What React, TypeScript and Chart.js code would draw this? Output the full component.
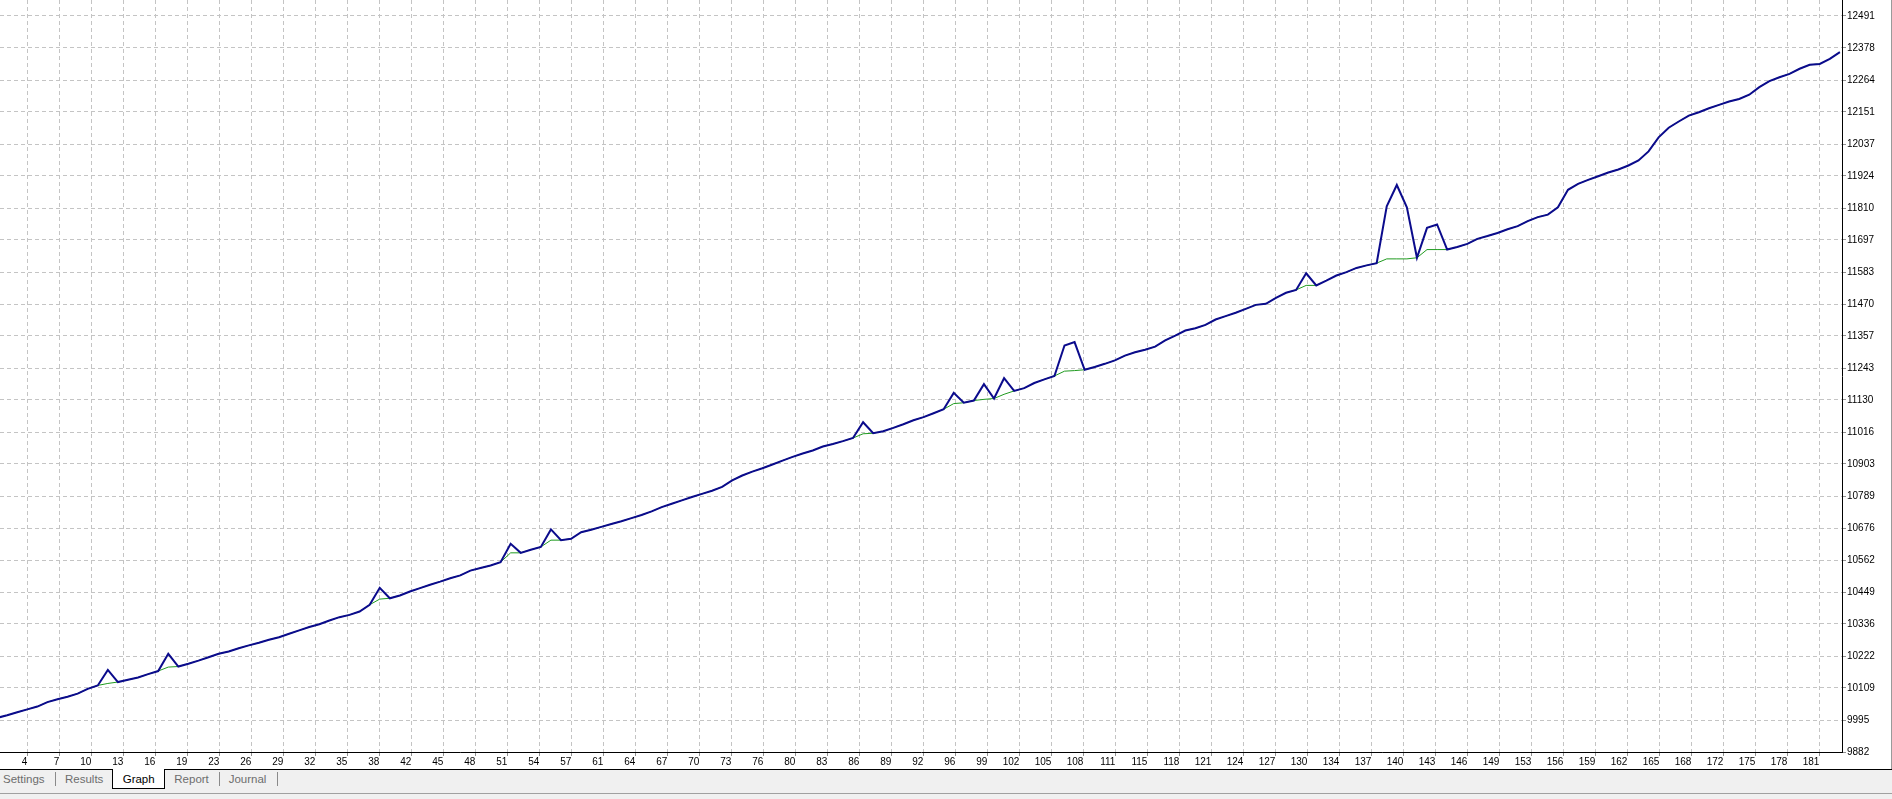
import { useEffect, useRef } from 'react';
import { Chart, registerables } from 'chart.js';

Chart.register(...registerables);

// Blue line (one value per trade, trade 1..184)
const BLUE_SERIES = [
  10003, 10012, 10023, 10033, 10043, 10059, 10069, 10078, 10089, 10106,
  10118, 10173, 10130, 10138, 10146, 10158, 10169, 10230, 10185, 10195,
  10206, 10218, 10230, 10238, 10250, 10260, 10269, 10280, 10289, 10301,
  10313, 10325, 10335, 10348, 10360, 10368, 10380, 10404, 10464, 10427,
  10437, 10451, 10463, 10475, 10486, 10498, 10508, 10525, 10534, 10543,
  10555, 10620, 10588, 10599, 10609, 10671, 10633, 10638, 10661, 10670,
  10680, 10690, 10700, 10711, 10722, 10735, 10750, 10762, 10774, 10786,
  10797, 10808, 10822, 10845, 10862, 10876, 10888, 10901, 10915, 10928,
  10940, 10951, 10965, 10974, 10984, 10995, 11051, 11012, 11019, 11031,
  11044, 11058, 11069, 11083, 11097, 11155, 11120, 11128, 11186, 11135,
  11207, 11162, 11172, 11190, 11203, 11215, 11323, 11335, 11237, 11247,
  11258, 11270, 11287, 11299, 11308, 11319, 11341, 11358, 11376, 11384,
  11396, 11415, 11427, 11439, 11453, 11467, 11471, 11492, 11510, 11520,
  11579, 11536, 11553, 11571, 11583, 11598, 11607, 11615, 11816, 11892,
  11813, 11634, 11740, 11752, 11663, 11672, 11683, 11701, 11711, 11722,
  11735, 11746, 11764, 11778, 11787, 11813, 11875, 11896, 11910, 11923,
  11936, 11947, 11961, 11979, 12011, 12061, 12095, 12117, 12138, 12150,
  12164, 12176, 12188, 12197, 12212, 12239, 12260, 12274, 12286, 12304,
  12318, 12321, 12339, 12363,
];

// Green line (one value per trade, trade 1..184)
const GREEN_SERIES = [
  10003, 10012, 10023, 10033, 10043, 10059, 10069, 10078, 10089, 10106,
  10118, 10125, 10130, 10138, 10146, 10158, 10169, 10183, 10185, 10195,
  10206, 10218, 10230, 10238, 10250, 10260, 10269, 10280, 10289, 10301,
  10313, 10325, 10335, 10348, 10360, 10368, 10380, 10404, 10424, 10427,
  10437, 10451, 10463, 10475, 10486, 10498, 10508, 10525, 10534, 10543,
  10555, 10588, 10588, 10599, 10609, 10633, 10633, 10638, 10661, 10670,
  10680, 10690, 10700, 10711, 10722, 10735, 10750, 10762, 10774, 10786,
  10797, 10808, 10822, 10845, 10862, 10876, 10888, 10901, 10915, 10928,
  10940, 10951, 10965, 10974, 10984, 10995, 11010, 11012, 11019, 11031,
  11044, 11058, 11069, 11083, 11097, 11117, 11120, 11128, 11132, 11135,
  11150, 11162, 11172, 11190, 11203, 11215, 11232, 11234, 11237, 11247,
  11258, 11270, 11287, 11299, 11308, 11319, 11341, 11358, 11376, 11384,
  11396, 11415, 11427, 11439, 11453, 11467, 11471, 11492, 11510, 11520,
  11536, 11536, 11553, 11571, 11583, 11598, 11607, 11615, 11630, 11630,
  11630, 11634, 11663, 11663, 11663, 11672, 11683, 11701, 11711, 11722,
  11735, 11746, 11764, 11778, 11787, 11813, 11875, 11896, 11910, 11923,
  11936, 11947, 11961, 11979, 12011, 12061, 12095, 12117, 12138, 12150,
  12164, 12176, 12188, 12197, 12212, 12239, 12260, 12274, 12286, 12304,
  12318, 12321, 12339, 12363,
];

const X_TICK_LABELS = [
  '4', '7', '10', '13', '16', '19', '23', '26', '29', '32', '35', '38', '42', '45', '48',
  '51', '54', '57', '61', '64', '67', '70', '73', '76', '80', '83', '86', '89', '92', '96',
  '99', '102', '105', '108', '111', '115', '118', '121', '124', '127', '130', '134', '137',
  '140', '143', '146', '149', '153', '156', '159', '162', '165', '168', '172', '175', '178', '181',
];

const Y_TICK_LABELS = [
  12491, 12378, 12264, 12151, 12037, 11924, 11810, 11697, 11583, 11470, 11357, 11243,
  11130, 11016, 10903, 10789, 10676, 10562, 10449, 10336, 10222, 10109, 9995, 9882,
];

const X_FIRST_TICK = 4.0;
const X_TICK_STEP = 3.178;
const X_MIN = 1.29;
const X_MAX = 184.21;
const Y_MIN = 9882;
const Y_MAX = 12547.7;

const TABS = ['Settings', 'Results', 'Graph', 'Report', 'Journal'];
const TAB_LEFT = [3, 65, 122.7, 174.3, 228.7];
const SEPARATORS_LEFT = [55, 219.3, 277.3];

const FONT = '"Liberation Sans", Arial, sans-serif';

export default function App() {
  const ref = useRef<HTMLCanvasElement>(null);

  useEffect(() => {
    document.body.style.margin = '0';
    const canvas = ref.current;
    if (!canvas) return;
    const chart = new Chart(canvas, {
      type: 'line',
      data: {
        datasets: [
          {
            label: 'Balance',
            data: BLUE_SERIES.map((v, i) => ({ x: i + 1, y: v })),
            borderColor: '#0b0b8c',
            borderWidth: 2,
            pointRadius: 0,
            tension: 0,
            fill: false,
          },
          {
            label: 'Equity',
            data: GREEN_SERIES.map((v, i) => ({ x: i + 1, y: v })),
            borderColor: '#1f9a1f',
            borderWidth: 1,
            pointRadius: 0,
            tension: 0,
            fill: false,
          },
        ],
      },
      options: {
        responsive: false,
        animation: false,
        events: [],
        layout: { padding: 0 },
        plugins: { legend: { display: false }, tooltip: { enabled: false } },
        scales: {
          x: {
            type: 'linear',
            position: 'bottom',
            min: X_MIN,
            max: X_MAX,
            afterBuildTicks: (s: any) => {
              s.ticks = X_TICK_LABELS.map((_, k) => ({ value: X_FIRST_TICK + k * X_TICK_STEP }));
            },
            afterFit: (s: any) => {
              s.height = 17;
              s.paddingLeft = 0;
              s.paddingRight = 0;
            },
            ticks: {
              callback: (_v: any, i: number) => X_TICK_LABELS[i],
              align: 'end',
              autoSkip: false,
              maxRotation: 0,
              minRotation: 0,
              padding: 0,
              color: '#000',
              font: { family: FONT, size: 10 },
            },
            grid: {
              color: '#c4c4c4',
              lineWidth: 1,
              tickColor: '#909090',
              tickLength: 4,
              tickBorderDash: [],
            },
            border: { display: true, color: '#000', width: 1, dash: [4, 3] },
          },
          y: {
            type: 'linear',
            position: 'right',
            min: Y_MIN,
            max: Y_MAX,
            afterBuildTicks: (s: any) => {
              s.ticks = Y_TICK_LABELS.map((v) => ({ value: v }));
            },
            afterFit: (s: any) => {
              s.width = 50;
              s.paddingTop = 0;
              s.paddingBottom = 0;
            },
            ticks: {
              callback: (v: any) => String(v),
              autoSkip: false,
              padding: 1,
              color: '#000',
              font: { family: FONT, size: 10 },
            },
            grid: {
              color: '#c4c4c4',
              lineWidth: 1,
              tickColor: '#909090',
              tickLength: 4,
              tickBorderDash: [],
            },
            border: { display: true, color: '#000', width: 1, dash: [4, 3] },
          },
        },
      },
    } as any);
    return () => chart.destroy();
  }, []);

  return (
    <div style={{ position: 'relative', width: 1892, height: 799, background: '#f0f0f0', overflow: 'hidden' }}>
      <canvas
        ref={ref}
        width={1892}
        height={769}
        style={{ display: 'block', position: 'absolute', left: 0, top: 0, background: '#fff' }}
      />
      <div style={{ position: 'absolute', left: 1891, top: 0, width: 1, height: 769, background: '#9a9a9a' }} />
      <div style={{ position: 'absolute', left: 0, top: 769, width: 1892, height: 1, background: '#000' }} />
      <div
        style={{
          position: 'absolute',
          left: 112,
          top: 769,
          width: 51,
          height: 19,
          background: '#fff',
          borderLeft: '1px solid #000',
          borderRight: '1px solid #000',
          borderBottom: '1px solid #000',
        }}
      />
      {TABS.map((t, i) => (
        <span
          key={t}
          style={{
            position: 'absolute',
            left: TAB_LEFT[i],
            top: 771,
            height: 16,
            lineHeight: '16px',
            fontFamily: FONT,
            fontSize: 11.5,
            color: t === 'Graph' ? '#000' : '#6d6d6d',
            whiteSpace: 'nowrap',
          }}
        >
          {t}
        </span>
      ))}
      {SEPARATORS_LEFT.map((x, i) => (
        <div key={i} style={{ position: 'absolute', left: x, top: 772, width: 1, height: 14, background: '#8a8a8a' }} />
      ))}
      <div style={{ position: 'absolute', left: 0, top: 793, width: 1892, height: 1, background: '#a0a0a0' }} />
    </div>
  );
}
